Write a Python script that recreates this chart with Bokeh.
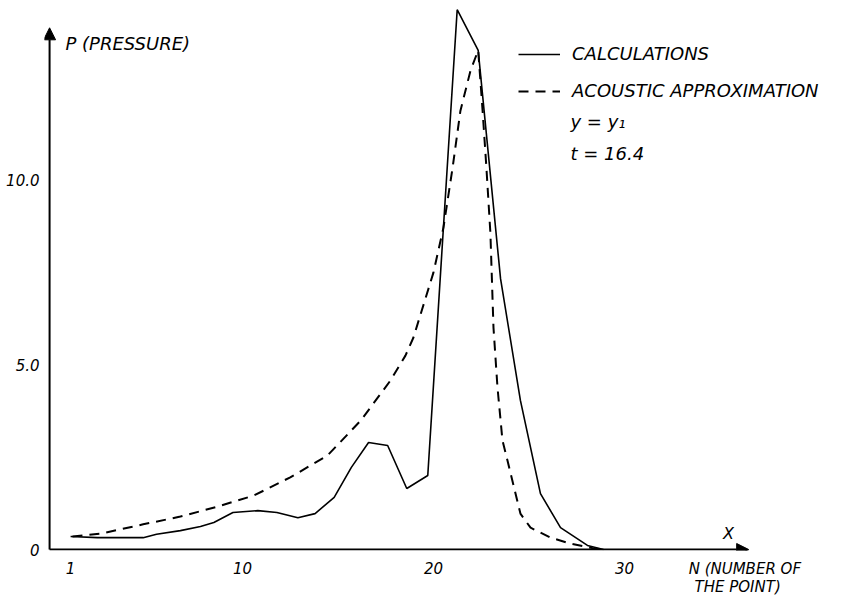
from bokeh.plotting import figure
from bokeh.models import Range1d, FixedTicker, Arrow, NormalHead, Label
from bokeh.embed import file_html
from bokeh.resources import INLINE

# ---- data ----
calc_n = [1.0, 2.4, 4.8, 5.5, 6.75, 7.8, 8.5, 9.5, 10.8, 11.8, 12.9, 13.8, 14.8, 15.7,
          16.6, 17.6, 18.6, 19.7, 21.24, 22.34, 23.51, 24.55, 25.6, 26.65, 28.06, 28.9]
calc_p = [0.35, 0.32, 0.32, 0.41, 0.51, 0.62, 0.73, 1.0, 1.05, 1.0, 0.86, 0.97, 1.41, 2.22,
          2.89, 2.81, 1.65, 2.0, 14.59, 13.49, 7.32, 4.03, 1.51, 0.59, 0.11, 0.0]

acou_n = [1.1, 2.6, 4.8, 6.75, 8.7, 10.6, 12.5, 14.45, 16.2, 17.75, 18.53, 18.95, 20.0,
          20.52, 21.0, 21.41, 21.94, 22.34, 22.57, 22.77, 22.98, 23.14, 23.35, 23.61,
          23.87, 24.55, 25.08, 26.13, 27.17, 28.38, 28.9]
acou_p = [0.35, 0.43, 0.68, 0.89, 1.16, 1.46, 1.95, 2.54, 3.49, 4.57, 5.24, 5.73, 7.49,
          8.70, 10.32, 11.86, 12.95, 13.49, 11.86, 10.32, 8.54, 6.0, 4.38, 2.95,
          2.41, 0.97, 0.59, 0.32, 0.16, 0.03, 0.0]

x_ticks = [1, 10, 20, 30]
x_tick_labels = ["1", "10", "20", "30"]
y_ticks = [0, 5, 10]
y_tick_labels = ["0", "5.0", "10.0"]

series_names = ["CALCULATIONS", "ACOUSTIC APPROXIMATION"]
y_title = "P (PRESSURE)"
x_title = "N (NUMBER OF\n  THE  POINT)"
x_title_at = 36.3
x_symbol = "X"
note_1 = "y = y\u2081"
note_2 = "t = 16.4"

FONT = "DejaVu Sans"

p = figure(width=862, height=600, output_backend="svg", toolbar_location=None,
           x_range=Range1d(-0.366, 42.46), y_range=Range1d(-0.027, 14.838),
           min_border_left=44, min_border_bottom=50, min_border_top=0, min_border_right=0)
p.outline_line_color = None
p.xgrid.visible = False
p.ygrid.visible = False
p.background_fill_color = "white"
p.border_fill_color = "white"

xt = x_ticks + [x_title_at]
xl = x_tick_labels + [x_title]
for ax, ticks, labels in ((p.xaxis[0], xt, xl), (p.yaxis[0], y_ticks, y_tick_labels)):
    ax.ticker = FixedTicker(ticks=ticks)
    ax.major_label_overrides = {t: l for t, l in zip(ticks, labels)}
    ax.axis_line_color = None
    ax.major_tick_line_color = None
    ax.minor_tick_line_color = None
    ax.major_tick_out = 0
    ax.major_tick_in = 0
    ax.minor_tick_out = 0
    ax.minor_tick_in = 0
    ax.major_label_text_font = FONT
    ax.major_label_text_font_style = "italic"
    ax.major_label_text_font_size = "15px"
    ax.major_label_text_color = "black"
p.xaxis.major_label_standoff = 9
p.yaxis.major_label_standoff = 5
p.xaxis.major_label_text_line_height = 1.0

# curves
p.line(calc_n, calc_p, line_color="black", line_width=1.6, legend_label=series_names[0])
p.line(acou_n, acou_p, line_color="black", line_width=2, line_dash="10 7",
       legend_label=series_names[1])

# hand-drawn axes with arrows
p.add_layout(Arrow(x_start=-0.1, y_start=0, x_end=-0.1, y_end=14.1, line_width=2,
                   line_color="black",
                   end=NormalHead(size=12, fill_color="black", line_color="black")))
p.add_layout(Arrow(x_start=-0.1, y_start=0, x_end=36.5, y_end=0, line_width=2,
                   line_color="black",
                   end=NormalHead(size=12, fill_color="black", line_color="black")))

def lab(x, y, t, size="17px", align="left"):
    p.add_layout(Label(x=x, y=y, text=t, text_font=FONT, text_font_style="italic",
                       text_font_size=size, text_color="black", text_align=align,
                       text_baseline="middle"))

lab(0.73, 13.68, y_title, "18px")
lab(27.17, 11.57, note_1, "18px")
lab(27.17, 10.70, note_2, "18px")
lab(35.45, 0.43, x_symbol, "16px", "center")

lg = p.legend[0]
lg.location = (474, 449)
lg.border_line_alpha = 0
lg.background_fill_alpha = 0
lg.padding = 0
lg.margin = 0
lg.spacing = 16
lg.glyph_width = 42
lg.glyph_height = 20
lg.label_height = 20
lg.label_standoff = 12
lg.label_text_font = FONT
lg.label_text_font_style = "italic"
lg.label_text_font_size = "18px"
lg.label_text_color = "black"

open("out.html", "w").write(file_html(p, INLINE))
